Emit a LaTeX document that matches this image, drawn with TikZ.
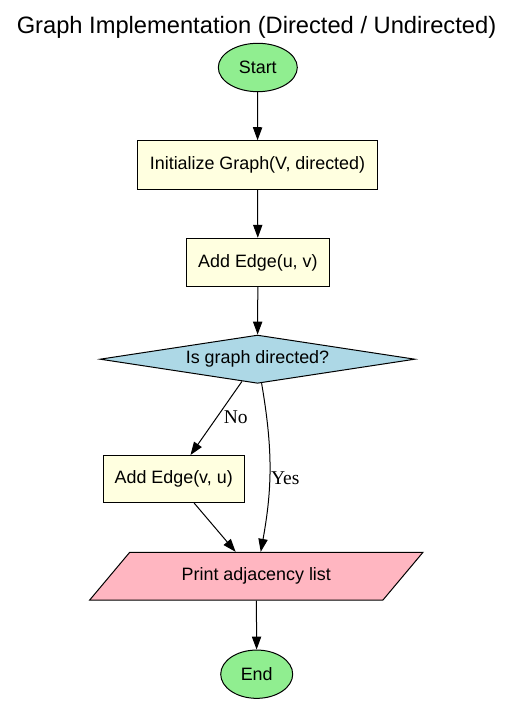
\documentclass[tikz,border=0pt]{standalone}
\usepackage{fontspec}
\setmainfont{Liberation Sans}
\newfontfamily\labelfont{Liberation Serif}
\usepackage{tikz}
\usetikzlibrary{arrows.meta,shapes.geometric}

\begin{document}
\begin{tikzpicture}[
        x=1pt, y=1pt,
        nodetext/.style={font=\fontsize{17.9}{21}\selectfont, inner sep=0pt, line width=1pt, draw},
        startend/.style={nodetext, ellipse, fill={rgb,255:red,144;green,238;blue,144}},
        procbox/.style 2 args={nodetext, rectangle, fill={rgb,255:red,255;green,255;blue,224}, minimum width=#1, minimum height=#2},
        decide/.style={nodetext, diamond, shape aspect=6.52, fill={rgb,255:red,173;green,216;blue,230}, minimum width=315pt, minimum height=48.3pt},
        iobox/.style={nodetext, trapezium, trapezium left angle=35.3, trapezium right angle=144.7, trapezium stretches=true, fill={rgb,255:red,255;green,182;blue,193}, minimum width=334pt, minimum height=47.7pt},
        flow/.style={line width=1pt, -{Triangle[length=13pt, width=9.3pt]}},
        edgelabel/.style={font=\labelfont\fontsize{19.5}{22}\selectfont, inner sep=0pt}
    ]
    \useasboundingbox (0, 0) rectangle (513, 703);
    \node[font=\fontsize{23.7}{28}\selectfont, anchor=base] (title) at (256.5, 669.7) {Graph Implementation (Directed / Undirected)};
    \node[startend, minimum width=79pt, minimum height=48.4pt] (start) at (257.8, 635.5) {Start};
    \node[procbox={240.4pt}{48.3pt}] (init) at (257.5, 538.1) {Initialize Graph(V, directed)};
    \node[procbox={142.3pt}{48.4pt}] (adduv) at (257.9, 440.5) {Add Edge(u, v)};
    \node[decide] (directed) at (257.5, 343.8) {Is graph directed?};
    \node[procbox={140.7pt}{47pt}] (addvu) at (173.7, 224) {Add Edge(v, u)};
    \node[iobox] (print) at (256.3, 126.8) {Print adjacency list};
    \node[startend, minimum width=72pt, minimum height=48.3pt] (end) at (256.7, 28.8) {End};
    \draw[flow] (start) -- (init);
    \draw[flow] (init) -- (adduv);
    \draw[flow] (adduv) -- (directed);
    \draw[flow] (directed) -- node[edgelabel, pos=0.48, anchor=west, xshift=6pt] {No} (addvu);
    \draw[flow] (directed) to[bend left = 10] node[edgelabel, pos=0.57, anchor=west, xshift=1pt] {Yes} (print);
    \draw[flow] (addvu) -- (print);
    \draw[flow] (print) -- (end);
\end{tikzpicture}
\end{document}
